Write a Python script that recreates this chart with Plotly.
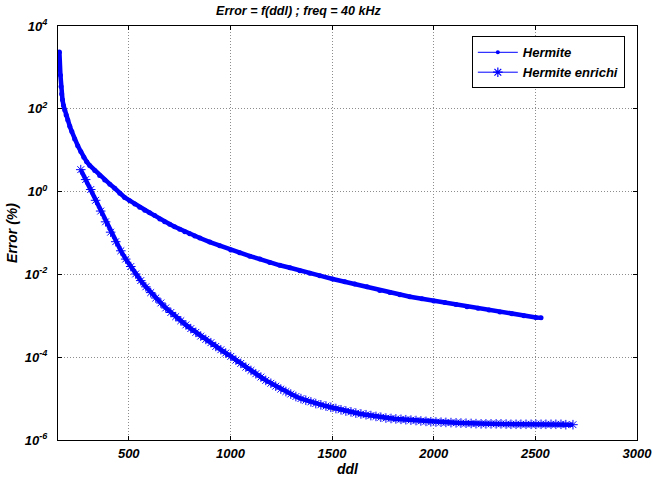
import plotly.graph_objects as go

# ---- data (ddl, and log10 of Error %) ----
hermite_ddl = [151, 159, 164, 167, 170, 174, 179, 185, 192, 200, 210, 220, 234, 249, 264, 279, 293, 308,
               333, 357, 382, 407, 431, 456, 480, 505, 530, 554, 579, 603, 628, 653, 677, 702, 726, 751,
               776, 800, 825, 850, 899, 948, 1002, 1046, 1096, 1145, 1194, 1243, 1293, 1342, 1391, 1440,
               1503, 1563, 1612, 1672, 1735, 1785, 1834, 1883, 1942, 2001, 2055, 2110, 2164, 2218, 2272,
               2326, 2385, 2444, 2503, 2528]
hermite_log10_err = [3.23, 3.37, 2.81, 2.54, 2.36, 2.22, 2.08, 1.97, 1.85, 1.73, 1.58, 1.45, 1.27, 1.11,
                     0.97, 0.83, 0.72, 0.63, 0.51, 0.39, 0.28, 0.18, 0.08, -0.04, -0.14, -0.22, -0.30,
                     -0.38, -0.45, -0.51, -0.58, -0.66, -0.73, -0.79, -0.85, -0.91, -0.97, -1.02, -1.07,
                     -1.12, -1.22, -1.31, -1.41, -1.48, -1.56, -1.63, -1.71, -1.78, -1.84, -1.91, -1.97,
                     -2.03, -2.11, -2.18, -2.23, -2.30, -2.39, -2.44, -2.49, -2.54, -2.59, -2.64, -2.68,
                     -2.73, -2.78, -2.82, -2.86, -2.91, -2.95, -3.00, -3.04, -3.05]

enrichi_ddl = [264, 288, 313, 337, 362, 386, 411, 436, 461, 485, 510, 534, 559, 584, 608, 633, 658, 682,
               707, 731, 756, 781, 805, 830, 854, 879, 904, 928, 953, 977, 1002, 1027, 1051, 1076, 1101,
               1125, 1150, 1174, 1199, 1223, 1248, 1273, 1297, 1322, 1347, 1371, 1396, 1420, 1445, 1470,
               1494, 1519, 1544, 1568, 1593, 1617, 1642, 1667, 1691, 1716, 1740, 1765, 1790, 1814, 1839,
               1863, 1888, 1913, 1937, 1962, 1986, 2011, 2036, 2060, 2085, 2110, 2134, 2159, 2184, 2208,
               2233, 2257, 2282, 2307, 2331, 2356, 2380, 2405, 2429, 2454, 2479, 2503, 2528, 2552, 2577,
               2601, 2626, 2650, 2685]
enrichi_log10_err = [0.53, 0.29, 0.05, -0.21, -0.47, -0.73, -0.98, -1.21, -1.43, -1.63, -1.81, -1.99,
                     -2.15, -2.30, -2.44, -2.57, -2.69, -2.81, -2.92, -3.02, -3.12, -3.22, -3.31, -3.40,
                     -3.49, -3.57, -3.65, -3.74, -3.82, -3.90, -3.98, -4.07, -4.15, -4.24, -4.32, -4.40,
                     -4.48, -4.56, -4.63, -4.70, -4.77, -4.83, -4.89, -4.95, -5.00, -5.04, -5.08, -5.12,
                     -5.15, -5.18, -5.21, -5.24, -5.27, -5.30, -5.32, -5.35, -5.37, -5.39, -5.41, -5.43,
                     -5.45, -5.47, -5.48, -5.49, -5.50, -5.51, -5.52, -5.53, -5.54, -5.55, -5.56, -5.565,
                     -5.57, -5.575, -5.58, -5.585, -5.59, -5.595, -5.60, -5.605, -5.61, -5.61, -5.61,
                     -5.61, -5.61, -5.615, -5.62, -5.62, -5.62, -5.62, -5.62, -5.62, -5.62, -5.62, -5.62,
                     -5.62, -5.62, -5.63, -5.63]

series_names = ["Hermite", "Hermite enrichi"]
x_ticks = [500, 1000, 1500, 2000, 2500, 3000]
y_ticks = [1e-6, 1e-4, 1e-2, 1e0, 1e2, 1e4]
y_ticktext = ["10<sup>-6</sup>", "10<sup>-4</sup>", "10<sup>-2</sup>", "10<sup>0</sup>",
              "10<sup>2</sup>", "10<sup>4</sup>"]

hermite_err = [10 ** v for v in hermite_log10_err]
enrichi_err = [10 ** v for v in enrichi_log10_err]

BLUE = "#0000FF"
FONT = "Liberation Sans, Arial, sans-serif"

fig = go.Figure()

# visible data traces
fig.add_trace(go.Scatter(x=hermite_ddl, y=hermite_err, mode="lines+markers",
                         line=dict(color=BLUE, width=4.5),
                         marker=dict(symbol="circle", size=5, color=BLUE),
                         showlegend=False, hoverinfo="skip"))
fig.add_trace(go.Scatter(x=enrichi_ddl, y=enrichi_err, mode="lines+markers",
                         line=dict(color=BLUE, width=4.5),
                         marker=dict(symbol="asterisk-open", size=8, color=BLUE,
                                     line=dict(color=BLUE, width=1)),
                         showlegend=False, hoverinfo="skip"))

# legend-only entries (thin lines like the reference legend)
fig.add_trace(go.Scatter(x=[None], y=[None], mode="lines+markers", name=series_names[0],
                         line=dict(color=BLUE, width=1),
                         marker=dict(symbol="circle", size=4, color=BLUE)))
fig.add_trace(go.Scatter(x=[None], y=[None], mode="lines+markers", name=series_names[1],
                         line=dict(color=BLUE, width=1),
                         marker=dict(symbol="asterisk-open", size=8, color=BLUE,
                                     line=dict(color=BLUE, width=1.2))))

axis_common = dict(
    showline=True, linecolor="black", linewidth=1, mirror="ticks",
    ticks="inside", ticklen=4, tickcolor="black",
    showgrid=True, gridcolor="#8c8c8c", griddash="1px,2px", gridwidth=1,
    zeroline=False, automargin=False,
    tickfont=dict(family=FONT, size=13, color="black", weight="bold", style="italic"),
)

fig.update_xaxes(range=[152, 3000], tickvals=x_ticks, ticktext=[str(t) for t in x_ticks],
                 ticklabelstandoff=1,
                 title=dict(text="ddl", standoff=3,
                            font=dict(family=FONT, size=14, color="black", weight="bold", style="italic")),
                 **axis_common)
fig.update_yaxes(type="log", range=[-6, 4], tickvals=y_ticks, ticktext=y_ticktext,
                 ticklabelstandoff=7,
                 title=dict(text="Error (%)", standoff=3,
                            font=dict(family=FONT, size=14, color="black", weight="bold", style="italic")),
                 **axis_common)

fig.update_layout(
    width=653, height=477,
    margin=dict(l=58, r=16, t=26, b=37),
    paper_bgcolor="white", plot_bgcolor="white",
    title=dict(text="Error = f(ddl) ; freq = 40 kHz", x=0.457, xanchor="center", y=0.978, yanchor="middle",
               font=dict(family=FONT, size=12.5, color="black", weight="bold", style="italic")),
    legend=dict(x=0.979, xanchor="right", y=0.975, yanchor="top",
                bgcolor="white", bordercolor="black", borderwidth=1,
                itemwidth=40, tracegroupgap=0,
                font=dict(family=FONT, size=13, color="black", weight="bold", style="italic")),
    showlegend=True,
)

fig.write_html("out.html")
